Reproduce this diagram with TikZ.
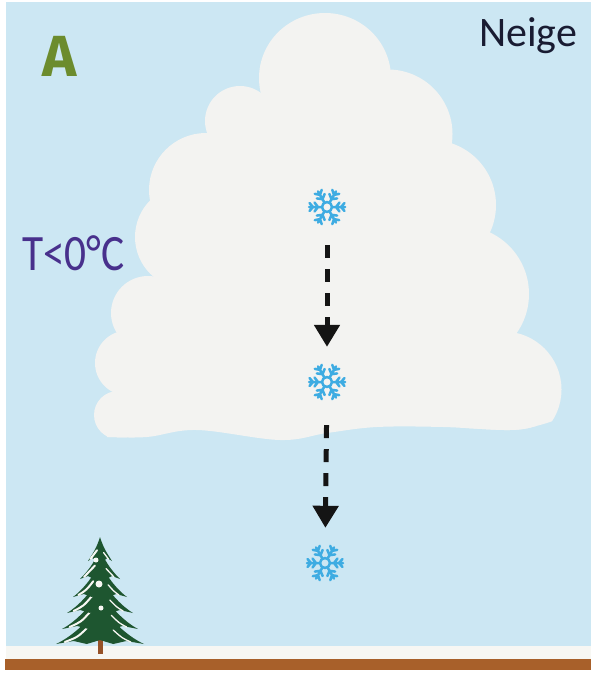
\documentclass[tikz,border=0pt]{standalone}
\usepackage{fontspec}
\usetikzlibrary{arrows.meta}
\newfontfamily\labelfont{Carlito}
\newfontfamily\letterfont{Fira Sans}

\definecolor{sky}{RGB}{204,231,243}
\definecolor{cloud}{RGB}{243,243,241}
\definecolor{flakeblue}{RGB}{62,172,226}
\definecolor{leaf}{RGB}{108,140,45}
\definecolor{navy}{RGB}{25,28,50}
\definecolor{tempcol}{RGB}{72,48,140}
\definecolor{soil}{RGB}{168,96,42}
\definecolor{snow}{RGB}{247,247,243}
\definecolor{spruce}{RGB}{30,86,48}
\definecolor{bark}{RGB}{150,82,40}

\tikzset{
  flakeline/.style={draw=flakeblue, line width=2.5pt, line cap=round, line join=round},
  snowflake/.pic={
    \foreach \ang in {0,60,...,300}{
      \draw[flakeline, rotate=\ang] (5,0) -- (18,0)
        (9,0) -- (12.5,4.5) (9,0) -- (12.5,-4.5)
        (14,0) -- (17.5,4) (14,0) -- (17.5,-4);
    }
    \draw[flakeline] (0,0) circle (5);
  },
  flakespot/.style={circle, minimum size=42pt, inner sep=0pt},
  fall/.style={draw=black!92, line width=5pt, dash pattern=on 13pt off 11pt,
    -{Triangle[width=25pt,length=22pt]}},
  caption/.style={inner sep=0pt, anchor=base west}
}

\begin{document}
\begin{tikzpicture}[x=1pt,y=-1pt]
\useasboundingbox (0,0) rectangle (591,674);
% paper, sky and ground
\fill[white] (0,0) rectangle (591,674);
\fill[sky] (6,2) rectangle (591,648);
\fill[snow] (6,646) rectangle (591,659);
\fill[soil] (5,659) rectangle (591,670);

% the cloud: overlapping puffs around a filled core, cut flat underneath
\begin{scope}
  \clip (0,0) -- (591,0) -- (591,416)
    -- plot[smooth, tension=0.6] coordinates {(566,416) (540,425) (510,430) (443,427) (377,427) (327,433) (280,440) (197,430) (147,437) (105,437) (80,437)}
    -- (0,437) -- cycle;
  \begin{scope}[fill=cloud]
    \fill (325,78) ellipse [x radius=66, y radius=65];
    \fill (240,121) circle (35);
    \fill (206,190) circle (57);
    \fill (187,237) circle (52);
    \fill (148,313) circle (37);
    \fill (127.5,363) circle (32.5);
    \fill (118,415) circle (24);
    \fill (388,134) circle (64.5);
    \fill (431,205) circle (65);
    \fill (461,294) circle (68);
    \fill (503.5,389.5) circle (58);
    \fill (240,121) -- (325,78) -- (388,134) -- (431,205) -- (461,294) -- (503.5,389.5)
      -- (560,450) -- (100,450) -- (118,415) -- (127.5,363) -- (148,313) -- (187,237) -- (206,190) -- cycle;
  \end{scope}
\end{scope}

% snowy spruce
\fill[bark] (97.5,615) rectangle (102.5,654);
\foreach \yt/\yb/\w in {604/644/44, 590/629/38, 576/613/33, 562/597/27, 549/579/20, 537/561/12}{
  \pgfmathsetmacro{\h}{\yb-\yt}
  \fill[spruce] (100,\yt) .. controls (100-0.3*\w,\yt+0.5*\h) and (100-0.7*\w,\yb-6) .. (100-\w,\yb)
    -- (100-0.6*\w,\yb-3) -- (100-0.3*\w,\yb) -- (100,\yb-4) -- (100+0.3*\w,\yb) -- (100+0.6*\w,\yb-3)
    -- (100+\w,\yb) .. controls (100+0.7*\w,\yb-6) and (100+0.3*\w,\yt+0.5*\h) .. (100,\yt) -- cycle;
  \draw[snow, line width=2pt, line cap=round] (100-0.25*\w,\yt+0.55*\h) .. controls (100-0.5*\w,\yb-7) .. (100-0.8*\w,\yb-2);
  \draw[snow, line width=1.3pt, line cap=round] (100+0.3*\w,\yt+0.65*\h) .. controls (100+0.5*\w,\yb-6) .. (100+0.7*\w,\yb-2);
}
\fill[snow] (99,584) circle (3.5);
\fill[snow] (96,560) circle (2.5);
\fill[snow] (101,608) circle (2.5);

% captions
\node[caption, anchor=base, text=leaf, font=\letterfont\bfseries\fontsize{58}{58}\selectfont] (panel) at (60,77) {A};
\node[caption, text=navy, font=\labelfont\fontsize{42}{42}\selectfont] (title) at (479,47) {Neige};
\node[caption, text=tempcol, font=\labelfont\fontsize{51}{51}\selectfont] (temp) at (22,270) {\scalebox{0.85}[1]{T<0°C}};

% falling snowflakes
\node[flakespot] (s1) at (327,207) {};
\node[flakespot] (s2) at (327,382) {};
\node[flakespot] (s3) at (325,563) {};
\pic at (s1) {snowflake};
\pic at (s2) {snowflake};
\pic at (s3) {snowflake};
\draw[fall, shorten <=17pt, shorten >=14pt] (s1) -- (s2);
\draw[fall, shorten <=22pt, shorten >=14pt] (s2) -- (s3);
\end{tikzpicture}
\end{document}
